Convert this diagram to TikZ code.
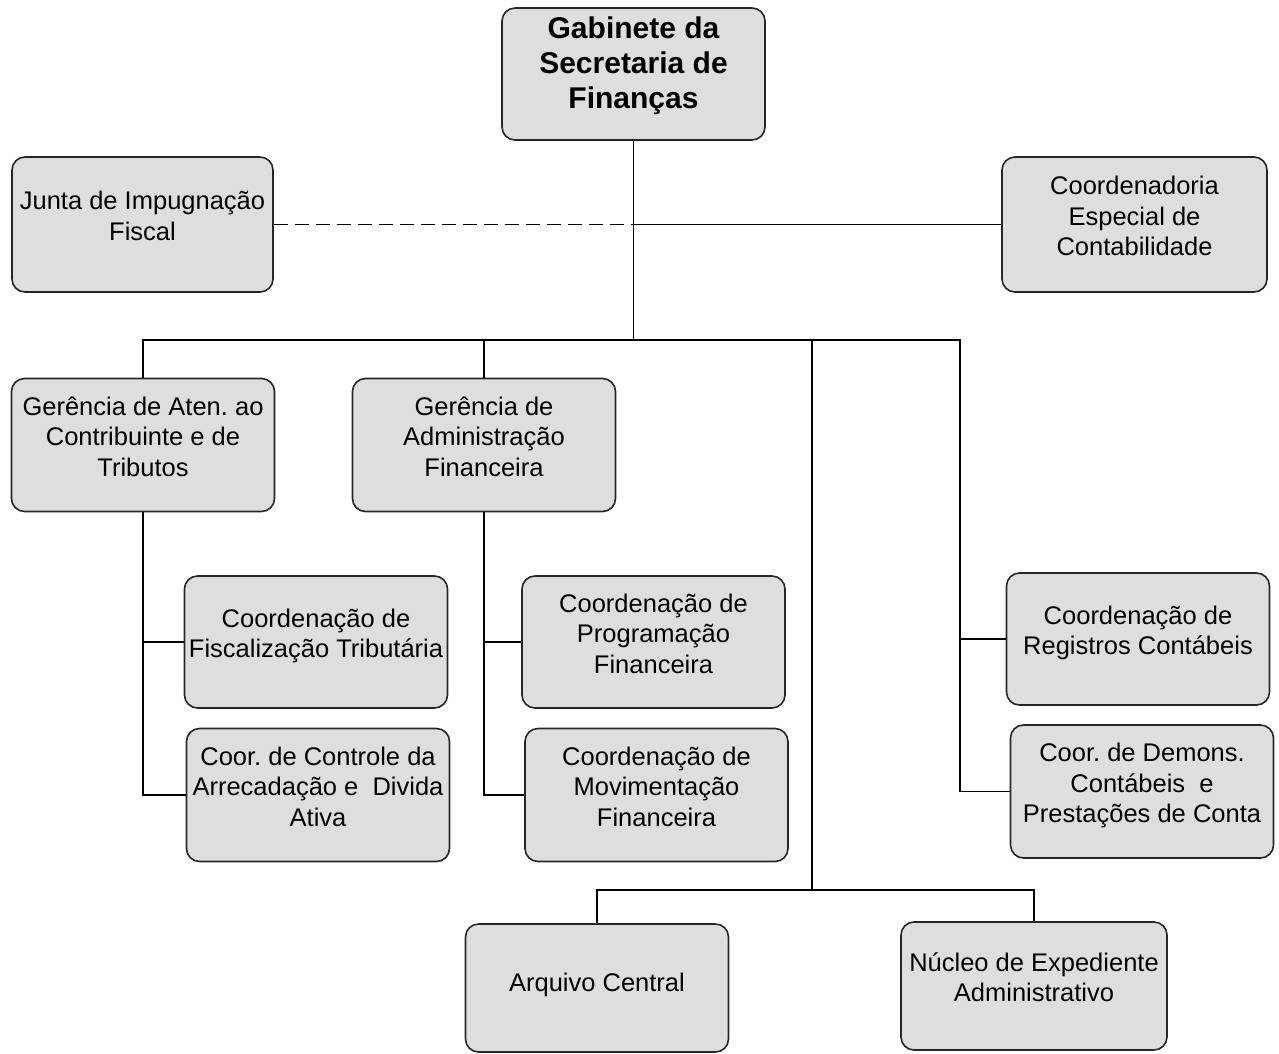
\documentclass[tikz,border=0pt]{standalone}
\usepackage{fontspec}
\setmainfont{Liberation Sans}
\newcommand\boxtxt[2][5.5pt]{\raisebox{#1}[\height][\depth]{\begin{tabular}{@{}c@{}}#2\end{tabular}}}
\begin{document}
\begin{tikzpicture}[x=1pt,y=-1pt,
  orgbox/.style={draw=black!85, line width=1.6pt, fill=black!13, rounded corners=13pt,
    inner xsep=0pt, inner ysep=0pt, minimum width=263pt,
    minimum height=133pt, font=\frenchspacing\fontsize{25.5}{30.5}\selectfont},
  conn/.style={line width=1.3pt, black}]
\useasboundingbox (0,0) rectangle (1279,1053);
\fill[white] (0,0) rectangle (1279,1053);

\node[orgbox, minimum height=132pt, font=\frenchspacing\bfseries\fontsize{30}{35}\selectfont] (gab) at (633.5,74) {\boxtxt[8pt]{Gabinete da\\Secretaria de\\Finanças}};
\node[orgbox, minimum height=135pt, minimum width=261pt] (junta) at (142.5,224.5) {\boxtxt{Junta de Impugnação\\Fiscal}};
\node[orgbox, minimum height=135pt, minimum width=265pt] (esp) at (1134.5,224.5) {\boxtxt{Coordenadoria\\Especial de\\Contabilidade}};
\node[orgbox] (ger1) at (143,445) {\boxtxt{Gerência de Aten. ao\\Contribuinte e de\\Tributos}};
\node[orgbox] (ger2) at (484,445) {\boxtxt{Gerência de\\Administração\\Financeira}};
\node[orgbox, minimum height=132pt] (fis) at (316,642) {\boxtxt{Coordenação de\\Fiscalização Tributária}};
\node[orgbox] (ctrl) at (318,795) {\boxtxt{Coor. de Controle da\\Arrecadação e~ Divida\\Ativa}};
\node[orgbox, minimum height=132pt] (prog) at (653.5,642) {\boxtxt{Coordenação de\\Programação\\Financeira}};
\node[orgbox] (mov) at (656.5,795) {\boxtxt{Coordenação de\\Movimentação\\Financeira}};
\node[orgbox, minimum height=132pt] (reg) at (1138,639) {\boxtxt{Coordenação de\\Registros Contábeis}};
\node[orgbox] (dem) at (1142,791.5) {\boxtxt{Coor. de Demons.\\Contábeis~ e\\Prestações de Conta}};
\node[orgbox, minimum height=128pt] (arq) at (597,988) {\boxtxt[3pt]{Arquivo Central}};
\node[orgbox, minimum height=128pt, minimum width=266pt] (nuc) at (1034,986) {\boxtxt{Núcleo de Expediente\\Administrativo}};

\coordinate (bus) at (633.5,340);
\coordinate (j3) at (812,340);
\coordinate (j4) at (960,340);
\coordinate (j5) at (812,890);

\draw[conn] (gab.south) -- (bus);
\draw[conn, dash pattern=on 14pt off 7pt] (junta.east) -- (gab.south |- junta.east);
\draw[conn] (gab.south |- esp.west) -- (esp.west);
\draw[conn] (ger1.north) |- (j4) |- (dem.west);
\draw[conn] (j4 |- reg.west) -- (reg.west);
\draw[conn] (ger2.north) -- (ger2.north |- bus);
\draw[conn] (j3) -- (j5);
\draw[conn] (arq.north) |- (j5) -| (nuc.north);
\draw[conn] (ger1.south) |- (ctrl.west);
\draw[conn] (ger1.south |- fis.west) -- (fis.west);
\draw[conn] (ger2.south) |- (mov.west);
\draw[conn] (ger2.south |- prog.west) -- (prog.west);
\end{tikzpicture}
\end{document}
